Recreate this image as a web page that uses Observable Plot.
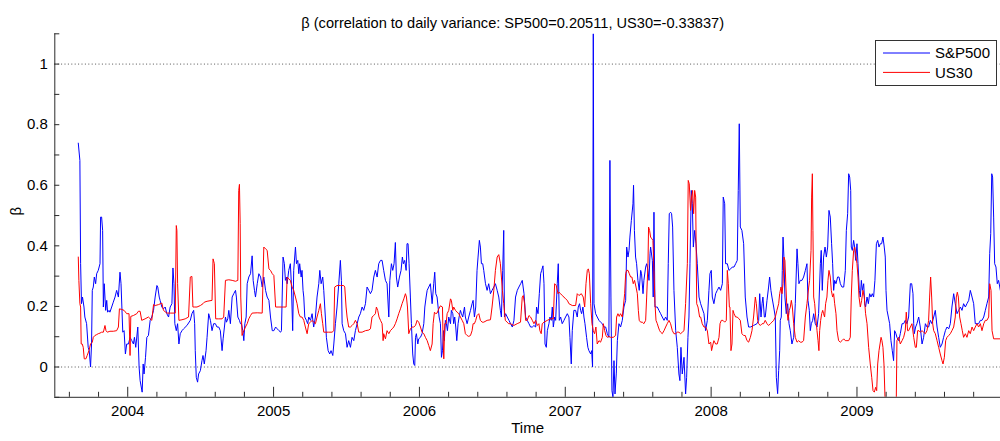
<!DOCTYPE html>
<html>
<head>
<meta charset="utf-8">
<script src="https://cdn.jsdelivr.net/npm/d3@7"></script>
<script src="https://cdn.jsdelivr.net/npm/@observablehq/plot@0.6"></script>
<style>
  body { margin: 0; background: #fff; }
  #chart { position: relative; width: 1000px; height: 441px; font-family: "Liberation Sans", Arial, sans-serif; }
  #legend { position: absolute; left: 875px; top: 40px; }
</style>
</head>
<body>
<div id="chart"><div id="legend"></div></div>
<script>
// Rolling beta of daily variance, [decimal year, beta]
const sp500 = [
[2003.661,0.739],[2003.672,0.682],[2003.677,0.341],[2003.683,0.209],[2003.690,0.231],[2003.700,0.198],[2003.706,0.165],[2003.718,0.143],[2003.729,0.065],[2003.736,0.054],[2003.745,0.000],[2003.752,0.076],[2003.757,0.253],[2003.764,0.264],[2003.771,0.297],[2003.780,0.275],[2003.787,0.308],[2003.798,0.319],[2003.810,0.341],[2003.814,0.495],[2003.821,0.495],[2003.828,0.451],[2003.833,0.198],[2003.839,0.275],[2003.849,0.187],[2003.856,0.220],[2003.862,0.181],[2003.872,0.187],[2003.878,0.181],[2003.890,0.198],[2003.901,0.214],[2003.913,0.231],[2003.924,0.253],[2003.936,0.231],[2003.947,0.313],[2003.954,0.275],[2003.966,0.115],[2003.975,0.120],[2003.984,0.043],[2003.993,0.076],
[2004.005,0.076],[2004.016,0.098],[2004.028,0.087],[2004.039,0.076],[2004.046,0.098],[2004.055,0.065],[2004.069,0.132],[2004.078,0.000],[2004.085,-0.045],[2004.099,-0.083],[2004.106,0.010],[2004.112,-0.023],[2004.122,0.032],[2004.131,0.098],[2004.142,0.104],[2004.154,0.154],[2004.165,0.165],[2004.177,0.187],[2004.188,0.231],[2004.200,0.269],[2004.206,0.264],[2004.216,0.231],[2004.222,0.220],[2004.234,0.198],[2004.245,0.192],[2004.257,0.198],[2004.268,0.176],[2004.280,0.165],[2004.291,0.198],[2004.303,0.209],[2004.310,0.327],[2004.317,0.275],[2004.323,0.143],[2004.333,0.120],[2004.342,0.143],[2004.351,0.076],[2004.360,0.110],[2004.372,0.120],[2004.383,0.126],[2004.406,0.137],[2004.429,0.154],[2004.440,0.176],[2004.452,0.187],[2004.459,0.143],[2004.463,0.054],[2004.470,-0.034],[2004.479,-0.050],[2004.486,-0.023],[2004.498,-0.012],[2004.509,0.021],[2004.516,0.038],[2004.525,0.010],[2004.537,0.054],[2004.544,0.098],[2004.555,0.176],[2004.567,0.154],[2004.578,0.120],[2004.589,0.143],[2004.601,0.143],[2004.612,0.132],[2004.624,0.132],[2004.635,0.120],[2004.647,0.054],[2004.654,0.093],[2004.663,0.132],[2004.670,0.165],[2004.677,0.148],[2004.686,0.159],[2004.693,0.187],[2004.704,0.143],[2004.716,0.231],[2004.727,0.242],[2004.739,0.253],[2004.745,0.231],[2004.755,0.165],[2004.766,0.154],[2004.773,0.143],[2004.780,0.143],[2004.789,0.120],[2004.796,0.087],[2004.803,0.143],[2004.812,0.165],[2004.819,0.275],[2004.830,0.297],[2004.842,0.308],[2004.853,0.367],[2004.860,0.286],[2004.869,0.253],[2004.876,0.231],[2004.888,0.275],[2004.899,0.308],[2004.911,0.297],[2004.922,0.264],[2004.933,0.297],[2004.945,0.253],[2004.956,0.231],[2004.968,0.220],[2004.979,0.165],[2004.991,0.120],
[2005.002,0.120],[2005.014,0.132],[2005.025,0.126],[2005.037,0.120],[2005.048,0.115],[2005.054,0.120],[2005.065,0.363],[2005.074,0.341],[2005.081,0.286],[2005.088,0.297],[2005.093,0.275],[2005.104,0.319],[2005.115,0.341],[2005.122,0.275],[2005.131,0.120],[2005.138,0.319],[2005.150,0.396],[2005.157,0.341],[2005.166,0.352],[2005.173,0.308],[2005.179,0.341],[2005.189,0.297],[2005.195,0.319],[2005.202,0.253],[2005.207,0.231],[2005.214,0.165],[2005.225,0.154],[2005.234,0.143],[2005.241,0.165],[2005.253,0.154],[2005.264,0.176],[2005.275,0.132],[2005.287,0.165],[2005.298,0.231],[2005.310,0.275],[2005.317,0.319],[2005.326,0.275],[2005.337,0.297],[2005.344,0.253],[2005.355,0.165],[2005.362,0.098],[2005.374,0.054],[2005.385,0.043],[2005.394,0.054],[2005.406,0.038],[2005.413,0.076],[2005.424,0.143],[2005.435,0.198],[2005.447,0.275],[2005.458,0.352],[2005.465,0.286],[2005.470,0.143],[2005.481,0.120],[2005.493,0.110],[2005.504,0.065],[2005.515,0.087],[2005.527,0.065],[2005.538,0.098],[2005.550,0.087],[2005.561,0.120],[2005.573,0.143],[2005.584,0.165],[2005.595,0.176],[2005.607,0.198],[2005.618,0.187],[2005.630,0.209],[2005.641,0.264],[2005.653,0.253],[2005.664,0.242],[2005.675,0.253],[2005.687,0.297],[2005.698,0.319],[2005.710,0.297],[2005.721,0.341],[2005.733,0.352],[2005.744,0.352],[2005.755,0.319],[2005.767,0.286],[2005.778,0.275],[2005.790,0.165],[2005.797,0.286],[2005.808,0.341],[2005.817,0.319],[2005.826,0.341],[2005.835,0.411],[2005.842,0.297],[2005.851,0.264],[2005.863,0.297],[2005.874,0.319],[2005.883,0.363],[2005.890,0.341],[2005.899,0.352],[2005.909,0.319],[2005.915,0.407],[2005.922,0.407],[2005.929,0.341],[2005.938,0.231],[2005.945,0.143],[2005.954,0.043],[2005.961,0.010],[2005.968,0.005],[2005.973,0.098],[2005.979,0.110],[2005.989,0.076],[2005.995,0.093],
[2006.007,0.098],[2006.018,0.110],[2006.030,0.143],[2006.037,0.198],[2006.046,0.231],[2006.053,0.253],[2006.064,0.264],[2006.075,0.275],[2006.087,0.209],[2006.098,0.275],[2006.105,0.313],[2006.112,0.242],[2006.121,0.231],[2006.128,0.198],[2006.135,0.165],[2006.144,0.143],[2006.151,0.032],[2006.158,0.054],[2006.165,0.120],[2006.171,0.087],[2006.178,0.154],[2006.185,0.143],[2006.192,0.120],[2006.201,0.165],[2006.213,0.143],[2006.219,0.187],[2006.229,0.176],[2006.235,0.143],[2006.242,0.165],[2006.249,0.132],[2006.256,0.087],[2006.265,0.143],[2006.272,0.165],[2006.281,0.187],[2006.288,0.176],[2006.297,0.165],[2006.309,0.198],[2006.315,0.165],[2006.327,0.143],[2006.338,0.165],[2006.350,0.187],[2006.361,0.209],[2006.368,0.220],[2006.377,0.165],[2006.386,0.198],[2006.395,0.319],[2006.402,0.363],[2006.411,0.418],[2006.418,0.396],[2006.425,0.341],[2006.434,0.341],[2006.441,0.319],[2006.453,0.275],[2006.464,0.253],[2006.475,0.275],[2006.487,0.242],[2006.498,0.253],[2006.510,0.264],[2006.521,0.275],[2006.533,0.253],[2006.544,0.231],[2006.555,0.187],[2006.562,0.165],[2006.571,0.319],[2006.578,0.451],[2006.583,0.165],[2006.591,0.176],[2006.602,0.165],[2006.614,0.154],[2006.625,0.143],[2006.637,0.132],[2006.648,0.154],[2006.659,0.231],[2006.671,0.253],[2006.682,0.264],[2006.694,0.275],[2006.705,0.286],[2006.717,0.242],[2006.728,0.165],[2006.739,0.154],[2006.751,0.143],[2006.762,0.132],[2006.774,0.132],[2006.785,0.137],[2006.797,0.132],[2006.803,0.198],[2006.813,0.176],[2006.822,0.242],[2006.831,0.308],[2006.838,0.319],[2006.847,0.334],[2006.854,0.275],[2006.861,0.076],[2006.870,0.065],[2006.877,0.120],[2006.888,0.143],[2006.895,0.165],[2006.904,0.154],[2006.911,0.198],[2006.918,0.132],[2006.927,0.165],[2006.934,0.154],[2006.945,0.275],[2006.952,0.341],[2006.959,0.154],[2006.968,0.165],[2006.979,0.143],[2006.991,0.154],
[2007.002,0.165],[2007.014,0.176],[2007.025,0.165],[2007.032,0.098],[2007.041,0.010],[2007.048,0.120],[2007.059,0.187],[2007.071,0.187],[2007.082,0.165],[2007.089,0.198],[2007.098,0.209],[2007.105,0.187],[2007.112,0.176],[2007.121,0.198],[2007.128,0.165],[2007.135,0.143],[2007.146,0.098],[2007.155,0.065],[2007.162,0.054],[2007.174,0.043],[2007.181,0.054],[2007.187,0.000],[2007.192,1.100],[2007.197,0.209],[2007.208,0.176],[2007.219,0.165],[2007.231,0.154],[2007.242,0.148],[2007.254,0.143],[2007.265,0.132],[2007.277,0.132],[2007.288,0.110],[2007.299,0.098],[2007.306,0.682],[2007.313,0.231],[2007.320,-0.078],[2007.327,-0.100],[2007.334,0.021],[2007.341,-0.089],[2007.350,-0.020],[2007.357,0.087],[2007.368,0.143],[2007.379,0.132],[2007.391,0.154],[2007.402,0.198],[2007.414,0.220],[2007.421,0.396],[2007.430,0.363],[2007.437,0.385],[2007.443,0.429],[2007.453,0.484],[2007.464,0.539],[2007.468,0.600],[2007.474,0.451],[2007.482,0.363],[2007.489,0.341],[2007.498,0.286],[2007.507,0.253],[2007.517,0.319],[2007.523,0.308],[2007.533,0.242],[2007.539,0.286],[2007.551,0.330],[2007.558,0.341],[2007.567,0.319],[2007.574,0.286],[2007.581,0.374],[2007.585,0.396],[2007.597,0.352],[2007.603,0.231],[2007.608,0.511],[2007.615,0.198],[2007.622,0.198],[2007.631,0.198],[2007.642,0.187],[2007.654,0.176],[2007.665,0.165],[2007.677,0.154],[2007.688,0.165],[2007.699,0.154],[2007.706,0.341],[2007.713,0.506],[2007.722,0.511],[2007.729,0.506],[2007.736,0.462],[2007.745,0.253],[2007.757,0.120],[2007.768,0.065],[2007.779,-0.023],[2007.786,-0.045],[2007.793,0.065],[2007.802,-0.023],[2007.814,0.032],[2007.825,-0.089],[2007.832,-0.034],[2007.841,0.098],[2007.848,0.165],[2007.855,0.341],[2007.864,0.583],[2007.871,0.539],[2007.878,0.396],[2007.887,0.451],[2007.896,0.407],[2007.905,0.341],[2007.917,0.231],[2007.928,0.209],[2007.951,0.176],[2007.962,0.120],[2007.974,0.154],[2007.985,0.253],[2007.992,0.308],
[2008.001,0.319],[2008.008,0.231],[2008.019,0.209],[2008.031,0.242],[2008.042,0.253],[2008.054,0.264],[2008.065,0.253],[2008.077,0.275],[2008.083,0.561],[2008.093,0.539],[2008.099,0.341],[2008.111,0.341],[2008.122,0.319],[2008.134,0.324],[2008.145,0.330],[2008.157,0.330],[2008.168,0.341],[2008.179,0.352],[2008.186,0.583],[2008.193,0.803],[2008.200,0.462],[2008.211,0.451],[2008.223,0.407],[2008.234,0.231],[2008.246,0.165],[2008.257,0.132],[2008.269,0.132],[2008.291,0.137],[2008.314,0.143],[2008.326,0.154],[2008.333,0.242],[2008.342,0.165],[2008.349,0.209],[2008.355,0.231],[2008.365,0.165],[2008.371,0.165],[2008.383,0.220],[2008.394,0.264],[2008.401,0.297],[2008.410,0.253],[2008.417,0.231],[2008.429,0.198],[2008.440,0.165],[2008.447,-0.034],[2008.456,-0.088],[2008.463,-0.012],[2008.470,0.054],[2008.474,0.154],[2008.481,0.165],[2008.488,0.319],[2008.493,0.429],[2008.499,0.363],[2008.506,0.231],[2008.515,0.176],[2008.525,0.209],[2008.534,0.143],[2008.543,0.120],[2008.554,0.076],[2008.566,0.098],[2008.577,0.209],[2008.589,0.390],[2008.595,0.341],[2008.602,0.275],[2008.611,0.286],[2008.623,0.286],[2008.634,0.297],[2008.646,0.319],[2008.657,0.341],[2008.664,0.220],[2008.673,0.187],[2008.680,0.120],[2008.687,0.143],[2008.696,0.154],[2008.703,0.176],[2008.714,0.143],[2008.726,0.132],[2008.737,0.176],[2008.749,0.341],[2008.755,0.385],[2008.762,0.253],[2008.771,0.363],[2008.781,0.396],[2008.790,0.363],[2008.799,0.396],[2008.808,0.517],[2008.817,0.495],[2008.826,0.407],[2008.833,0.341],[2008.840,0.253],[2008.847,0.286],[2008.856,0.275],[2008.867,0.297],[2008.877,0.297],[2008.886,0.275],[2008.897,0.264],[2008.909,0.264],[2008.920,0.319],[2008.927,0.451],[2008.936,0.506],[2008.943,0.638],[2008.950,0.627],[2008.957,0.583],[2008.961,0.396],[2008.968,0.385],[2008.977,0.418],[2008.984,0.396],[2008.991,0.352],
[2009.000,0.407],[2009.007,0.341],[2009.016,0.253],[2009.023,0.231],[2009.030,0.286],[2009.037,0.253],[2009.046,0.275],[2009.053,0.209],[2009.059,0.198],[2009.069,0.231],[2009.078,0.209],[2009.087,0.242],[2009.096,0.231],[2009.105,0.242],[2009.114,0.231],[2009.123,0.286],[2009.133,0.407],[2009.142,0.418],[2009.151,0.396],[2009.160,0.407],[2009.169,0.407],[2009.178,0.429],[2009.187,0.396],[2009.194,0.363],[2009.199,0.253],[2009.206,0.187],[2009.215,0.165],[2009.224,0.143],[2009.233,0.087],[2009.242,0.054],[2009.251,0.021],[2009.258,0.120],[2009.267,0.110],[2009.274,0.098],[2009.286,0.087],[2009.297,0.110],[2009.309,0.143],[2009.320,0.143],[2009.331,0.154],[2009.343,0.143],[2009.354,0.165],[2009.366,0.275],[2009.375,0.275],[2009.384,0.242],[2009.389,0.143],[2009.393,0.110],[2009.402,0.132],[2009.411,0.143],[2009.423,0.165],[2009.434,0.132],[2009.446,0.076],[2009.457,0.098],[2009.469,0.143],[2009.480,0.132],[2009.491,0.132],[2009.503,0.154],[2009.514,0.143],[2009.526,0.165],[2009.537,0.187],[2009.549,0.132],[2009.560,0.098],[2009.571,0.065],[2009.583,0.076],[2009.594,0.098],[2009.606,0.120],[2009.617,0.132],[2009.629,0.126],[2009.640,0.143],[2009.651,0.198],[2009.663,0.242],[2009.674,0.209],[2009.686,0.176],[2009.697,0.187],[2009.709,0.198],[2009.720,0.187],[2009.731,0.209],[2009.743,0.198],[2009.754,0.209],[2009.766,0.220],[2009.777,0.253],[2009.789,0.231],[2009.800,0.209],[2009.811,0.143],[2009.823,0.143],[2009.834,0.143],[2009.846,0.154],[2009.857,0.154],[2009.869,0.165],[2009.880,0.187],[2009.891,0.209],[2009.903,0.231],[2009.910,0.374],[2009.917,0.440],[2009.924,0.638],[2009.930,0.627],[2009.937,0.495],[2009.944,0.341],[2009.953,0.330],[2009.962,0.275],[2009.971,0.286],[2009.983,0.253]
];

const us30 = [
[2003.661,0.363],[2003.665,0.286],[2003.672,0.209],[2003.677,0.198],[2003.681,0.076],[2003.688,0.076],[2003.695,0.065],[2003.702,0.027],[2003.713,0.027],[2003.722,0.038],[2003.734,0.054],[2003.745,0.076],[2003.757,0.082],[2003.764,0.098],[2003.775,0.104],[2003.787,0.107],[2003.798,0.110],[2003.810,0.112],[2003.821,0.115],[2003.833,0.115],[2003.844,0.137],[2003.851,0.120],[2003.860,0.115],[2003.878,0.118],[2003.901,0.118],[2003.924,0.120],[2003.936,0.132],[2003.943,0.192],[2003.959,0.190],[2003.975,0.187],[2003.993,0.176],
[2004.009,0.176],[2004.016,0.038],[2004.021,0.167],[2004.039,0.170],[2004.062,0.176],[2004.073,0.184],[2004.085,0.184],[2004.096,0.154],[2004.119,0.159],[2004.142,0.165],[2004.165,0.154],[2004.177,0.206],[2004.188,0.203],[2004.211,0.206],[2004.234,0.211],[2004.245,0.187],[2004.268,0.178],[2004.291,0.178],[2004.326,0.178],[2004.333,0.467],[2004.337,0.451],[2004.342,0.275],[2004.351,0.154],[2004.372,0.156],[2004.394,0.159],[2004.417,0.165],[2004.429,0.297],[2004.440,0.299],[2004.447,0.198],[2004.456,0.198],[2004.475,0.198],[2004.498,0.203],[2004.516,0.209],[2004.525,0.214],[2004.544,0.217],[2004.578,0.220],[2004.585,0.357],[2004.594,0.341],[2004.603,0.159],[2004.624,0.159],[2004.647,0.159],[2004.658,0.165],[2004.670,0.286],[2004.693,0.288],[2004.716,0.286],[2004.739,0.283],[2004.755,0.286],[2004.761,0.583],[2004.766,0.603],[2004.771,0.473],[2004.775,0.231],[2004.784,0.104],[2004.796,0.120],[2004.807,0.132],[2004.819,0.143],[2004.830,0.159],[2004.842,0.170],[2004.853,0.178],[2004.888,0.179],[2004.922,0.178],[2004.933,0.396],[2004.945,0.390],[2004.956,0.385],[2004.968,0.324],[2004.979,0.319],[2004.991,0.308],
[2005.002,0.302],[2005.014,0.198],[2005.037,0.198],[2005.070,0.198],[2005.086,0.198],[2005.093,0.297],[2005.104,0.291],[2005.115,0.286],[2005.127,0.264],[2005.138,0.253],[2005.150,0.231],[2005.161,0.209],[2005.173,0.176],[2005.184,0.165],[2005.195,0.165],[2005.207,0.154],[2005.218,0.132],[2005.230,0.110],[2005.241,0.143],[2005.253,0.148],[2005.264,0.154],[2005.275,0.148],[2005.287,0.143],[2005.298,0.165],[2005.310,0.187],[2005.321,0.209],[2005.328,0.176],[2005.337,0.143],[2005.344,0.115],[2005.378,0.115],[2005.401,0.115],[2005.413,0.120],[2005.419,0.264],[2005.435,0.269],[2005.458,0.269],[2005.481,0.269],[2005.488,0.264],[2005.497,0.198],[2005.504,0.165],[2005.515,0.132],[2005.527,0.132],[2005.538,0.137],[2005.550,0.143],[2005.561,0.154],[2005.573,0.143],[2005.584,0.115],[2005.607,0.115],[2005.630,0.120],[2005.653,0.122],[2005.664,0.126],[2005.675,0.165],[2005.687,0.170],[2005.698,0.176],[2005.705,0.198],[2005.714,0.187],[2005.723,0.165],[2005.733,0.154],[2005.744,0.143],[2005.751,0.087],[2005.755,0.110],[2005.767,0.093],[2005.778,0.120],[2005.790,0.110],[2005.801,0.120],[2005.813,0.126],[2005.824,0.132],[2005.835,0.143],[2005.847,0.159],[2005.858,0.176],[2005.870,0.192],[2005.881,0.209],[2005.893,0.225],[2005.904,0.242],[2005.911,0.231],[2005.918,0.198],[2005.927,0.110],[2005.938,0.126],[2005.950,0.132],[2005.961,0.132],[2005.973,0.137],[2005.984,0.154],[2005.995,0.148],
[2006.007,0.132],[2006.018,0.115],[2006.030,0.110],[2006.041,0.098],[2006.053,0.087],[2006.064,0.071],[2006.075,0.054],[2006.087,0.076],[2006.094,0.143],[2006.103,0.181],[2006.112,0.176],[2006.121,0.178],[2006.133,0.192],[2006.144,0.202],[2006.158,0.198],[2006.162,0.098],[2006.167,0.027],[2006.174,0.143],[2006.183,0.143],[2006.190,0.176],[2006.201,0.187],[2006.213,0.225],[2006.219,0.220],[2006.229,0.187],[2006.235,0.198],[2006.247,0.187],[2006.258,0.181],[2006.270,0.176],[2006.281,0.165],[2006.293,0.154],[2006.304,0.143],[2006.315,0.110],[2006.327,0.104],[2006.338,0.101],[2006.350,0.104],[2006.361,0.120],[2006.368,0.143],[2006.377,0.143],[2006.386,0.154],[2006.395,0.170],[2006.407,0.176],[2006.418,0.154],[2006.430,0.148],[2006.441,0.148],[2006.464,0.154],[2006.487,0.156],[2006.498,0.198],[2006.510,0.253],[2006.521,0.319],[2006.533,0.363],[2006.544,0.371],[2006.555,0.341],[2006.562,0.297],[2006.569,0.253],[2006.578,0.209],[2006.589,0.154],[2006.601,0.148],[2006.612,0.143],[2006.624,0.143],[2006.647,0.137],[2006.670,0.143],[2006.693,0.148],[2006.705,0.231],[2006.712,0.236],[2006.721,0.209],[2006.728,0.154],[2006.739,0.154],[2006.751,0.170],[2006.762,0.165],[2006.774,0.154],[2006.785,0.143],[2006.797,0.154],[2006.808,0.137],[2006.819,0.143],[2006.826,0.120],[2006.835,0.110],[2006.842,0.143],[2006.854,0.148],[2006.877,0.154],[2006.899,0.159],[2006.918,0.159],[2006.927,0.275],[2006.938,0.269],[2006.950,0.242],[2006.957,0.247],[2006.968,0.242],[2006.979,0.236],[2006.991,0.231],
[2007.002,0.225],[2007.014,0.220],[2007.025,0.209],[2007.048,0.203],[2007.071,0.203],[2007.082,0.242],[2007.094,0.236],[2007.110,0.242],[2007.123,0.231],[2007.133,0.198],[2007.142,0.275],[2007.151,0.319],[2007.158,0.324],[2007.165,0.308],[2007.174,0.209],[2007.183,0.143],[2007.192,0.120],[2007.201,0.110],[2007.210,0.132],[2007.219,0.076],[2007.231,0.087],[2007.242,0.082],[2007.254,0.098],[2007.261,0.143],[2007.270,0.120],[2007.279,0.104],[2007.288,0.098],[2007.299,0.101],[2007.311,0.098],[2007.329,0.098],[2007.345,0.104],[2007.352,0.165],[2007.361,0.176],[2007.370,0.167],[2007.379,0.176],[2007.391,0.165],[2007.398,0.198],[2007.407,0.242],[2007.414,0.308],[2007.421,0.319],[2007.430,0.319],[2007.439,0.308],[2007.448,0.297],[2007.457,0.297],[2007.466,0.275],[2007.475,0.286],[2007.485,0.264],[2007.494,0.242],[2007.501,0.187],[2007.507,0.154],[2007.517,0.148],[2007.528,0.148],[2007.539,0.143],[2007.551,0.154],[2007.558,0.231],[2007.567,0.341],[2007.571,0.462],[2007.578,0.451],[2007.585,0.429],[2007.594,0.423],[2007.601,0.418],[2007.608,0.319],[2007.615,0.209],[2007.622,0.154],[2007.631,0.143],[2007.638,0.132],[2007.647,0.120],[2007.654,0.115],[2007.665,0.110],[2007.677,0.120],[2007.688,0.132],[2007.699,0.143],[2007.711,0.154],[2007.722,0.143],[2007.734,0.120],[2007.745,0.110],[2007.757,0.110],[2007.768,0.115],[2007.779,0.115],[2007.791,0.110],[2007.802,0.115],[2007.814,0.120],[2007.825,0.209],[2007.837,0.341],[2007.843,0.616],[2007.850,0.605],[2007.859,0.517],[2007.866,0.561],[2007.873,0.583],[2007.880,0.506],[2007.887,0.583],[2007.894,0.561],[2007.901,0.209],[2007.910,0.198],[2007.921,0.165],[2007.928,0.165],[2007.939,0.143],[2007.951,0.132],[2007.962,0.132],[2007.974,0.120],[2007.985,0.076],[2007.997,0.082],
[2008.003,0.054],[2008.013,0.076],[2008.019,0.087],[2008.031,0.076],[2008.042,0.076],[2008.054,0.098],[2008.061,0.143],[2008.070,0.154],[2008.081,0.154],[2008.093,0.148],[2008.104,0.154],[2008.111,0.319],[2008.118,0.275],[2008.125,0.198],[2008.129,0.198],[2008.136,0.054],[2008.143,0.076],[2008.150,0.187],[2008.157,0.176],[2008.168,0.165],[2008.179,0.165],[2008.191,0.159],[2008.200,0.154],[2008.211,0.110],[2008.223,0.104],[2008.234,0.104],[2008.246,0.087],[2008.257,0.082],[2008.269,0.098],[2008.280,0.120],[2008.291,0.165],[2008.303,0.231],[2008.310,0.209],[2008.319,0.154],[2008.326,0.143],[2008.337,0.137],[2008.349,0.143],[2008.360,0.143],[2008.371,0.154],[2008.383,0.143],[2008.394,0.137],[2008.406,0.143],[2008.417,0.148],[2008.429,0.154],[2008.440,0.165],[2008.451,0.187],[2008.463,0.209],[2008.470,0.242],[2008.479,0.264],[2008.486,0.242],[2008.493,0.275],[2008.499,0.363],[2008.506,0.352],[2008.513,0.264],[2008.520,0.187],[2008.527,0.154],[2008.536,0.187],[2008.543,0.198],[2008.550,0.220],[2008.557,0.198],[2008.566,0.143],[2008.577,0.098],[2008.589,0.082],[2008.600,0.087],[2008.611,0.082],[2008.623,0.082],[2008.634,0.087],[2008.646,0.165],[2008.657,0.209],[2008.669,0.264],[2008.675,0.286],[2008.685,0.385],[2008.689,0.561],[2008.694,0.638],[2008.698,0.451],[2008.703,0.231],[2008.710,0.209],[2008.717,0.165],[2008.726,0.120],[2008.733,0.087],[2008.739,0.054],[2008.744,0.120],[2008.751,0.154],[2008.758,0.176],[2008.765,0.187],[2008.771,0.176],[2008.778,0.165],[2008.785,0.209],[2008.794,0.231],[2008.801,0.286],[2008.808,0.319],[2008.817,0.297],[2008.824,0.253],[2008.833,0.231],[2008.840,0.242],[2008.847,0.209],[2008.856,0.176],[2008.863,0.120],[2008.874,0.087],[2008.886,0.082],[2008.897,0.087],[2008.909,0.093],[2008.920,0.087],[2008.931,0.087],[2008.943,0.087],[2008.954,0.098],[2008.961,0.231],[2008.968,0.319],[2008.977,0.385],[2008.984,0.396],[2008.991,0.374],
[2009.000,0.341],[2009.007,0.297],[2009.014,0.231],[2009.023,0.198],[2009.032,0.220],[2009.041,0.253],[2009.050,0.231],[2009.059,0.176],[2009.069,0.143],[2009.080,0.065],[2009.091,0.010],[2009.101,-0.034],[2009.110,-0.078],[2009.119,-0.083],[2009.128,-0.067],[2009.135,-0.078],[2009.142,0.010],[2009.151,0.054],[2009.158,0.076],[2009.165,0.098],[2009.171,0.087],[2009.178,0.065],[2009.185,0.010],[2009.192,-0.100],[2009.199,-0.300],[2009.265,-0.300],[2009.274,0.087],[2009.286,0.098],[2009.297,0.076],[2009.309,0.087],[2009.320,0.098],[2009.331,0.120],[2009.338,0.181],[2009.347,0.120],[2009.354,0.120],[2009.366,0.132],[2009.377,0.143],[2009.389,0.098],[2009.400,0.065],[2009.407,0.065],[2009.416,0.120],[2009.425,0.120],[2009.434,0.115],[2009.446,0.120],[2009.457,0.115],[2009.469,0.110],[2009.480,0.120],[2009.491,0.154],[2009.498,0.231],[2009.505,0.297],[2009.512,0.231],[2009.519,0.143],[2009.526,0.120],[2009.537,0.110],[2009.549,0.087],[2009.560,0.065],[2009.571,0.043],[2009.583,0.021],[2009.590,0.010],[2009.599,0.032],[2009.608,0.087],[2009.617,0.098],[2009.629,0.104],[2009.640,0.110],[2009.651,0.120],[2009.663,0.132],[2009.674,0.165],[2009.681,0.231],[2009.688,0.247],[2009.695,0.231],[2009.704,0.165],[2009.713,0.143],[2009.722,0.120],[2009.731,0.098],[2009.743,0.110],[2009.754,0.098],[2009.766,0.120],[2009.777,0.110],[2009.789,0.132],[2009.800,0.120],[2009.811,0.132],[2009.823,0.143],[2009.834,0.132],[2009.846,0.143],[2009.857,0.120],[2009.869,0.143],[2009.880,0.154],[2009.891,0.154],[2009.903,0.165],[2009.910,0.275],[2009.919,0.253],[2009.926,0.120],[2009.937,0.093],[2009.983,0.093]
];

const seriesNames = ["S&P500", "US30"];
const seriesColors = ["#0000ff", "#ff0000"];
const titleText = "β (correlation to daily variance: SP500=0.20511, US30=-0.33837)";
const xLabel = "Time";
const yLabel = "β";

const xDomain = [2003.5, 2009.984];
const yDomain = [-0.1, 1.1];
const yTickLabels = [0, 0.2, 0.4, 0.6, 0.8, 1];
const yTicks = d3.range(-1, 12).map(i => i / 10);
const yearTicks = d3.range(2004, 2010);
const minorYearTicks = d3.range(10018, 10050).filter(i => i % 5 !== 0).map(i => i / 5);
const refLines = [0, 1];

const axisColor = "#2b2b2b";
const font = "'Liberation Sans', Arial, sans-serif";

const chart = Plot.plot({
  width: 1000,
  height: 441,
  marginLeft: 54.3,
  marginRight: 0,
  marginTop: 33.3,
  marginBottom: 44.2,
  style: {fontFamily: font, fontSize: "15px", color: "#000", background: "#fff", overflow: "visible"},
  x: {domain: xDomain, label: null},
  y: {domain: yDomain, label: null},
  marks: [
    Plot.ruleY(refLines, {stroke: "#555", strokeDasharray: "1,2.4", strokeWidth: 1}),
    Plot.line(sp500, {x: d => d[0], y: d => d[1], stroke: seriesColors[0], strokeWidth: 1, clip: true}),
    Plot.line(us30, {x: d => d[0], y: d => d[1], stroke: seriesColors[1], strokeWidth: 1, clip: true}),
    // axis lines
    Plot.ruleX([xDomain[0]], {stroke: axisColor, strokeWidth: 1}),
    Plot.ruleY([yDomain[0]], {stroke: axisColor, strokeWidth: 1}),
    // inward ticks
    Plot.axisY({ticks: yTicks, tickSize: 5, dx: 5, fill: "none", stroke: axisColor}),
    Plot.axisX({ticks: minorYearTicks, tickSize: 5, dy: -5, fill: "none", stroke: axisColor}),
    Plot.axisX({ticks: yearTicks, tickSize: 10, dy: -10, fill: "none", stroke: axisColor}),
    // tick labels
    Plot.axisY({ticks: yTickLabels, tickSize: 0, tickPadding: 7, tickFormat: d => String(d), fill: "#000", fontSize: 15}),
    Plot.axisX({ticks: yearTicks, tickSize: 0, tickPadding: 8, tickFormat: d => String(d), fill: "#000", fontSize: 15}),
    // title and axis labels
    Plot.text([titleText], {frameAnchor: "top", dx: -15, dy: -16, fontSize: 14.6, fill: "#000"}),
    Plot.text([xLabel], {frameAnchor: "bottom", dy: 36, fontSize: 15, fill: "#000"}),
    Plot.text([yLabel], {frameAnchor: "left", dx: -39, rotate: -90, fontSize: 15, fill: "#000"})
  ]
});

const host = document.getElementById("chart");
host.insertBefore(chart, host.firstChild);

// legend box in the upper right of the axes
const lw = 121, lh = 45;
const legend = d3.select("#legend").append("svg")
  .attr("width", lw + 1).attr("height", lh + 1)
  .style("font-family", font).style("font-size", "15px");
legend.append("rect").attr("x", 0.5).attr("y", 0.5).attr("width", lw).attr("height", lh)
  .attr("fill", "#fff").attr("stroke", "#333");
const rows = legend.selectAll("g").data(seriesNames).join("g")
  .attr("transform", (d, i) => `translate(0,${13 + i * 19.4})`);
rows.append("line").attr("x1", 8).attr("x2", 55).attr("y1", 0).attr("y2", 0)
  .attr("stroke", (d, i) => seriesColors[i]).attr("stroke-width", 1);
rows.append("text").attr("x", 60).attr("y", 0).attr("dy", "0.35em").attr("fill", "#000").text(d => d);
</script>
</body>
</html>
